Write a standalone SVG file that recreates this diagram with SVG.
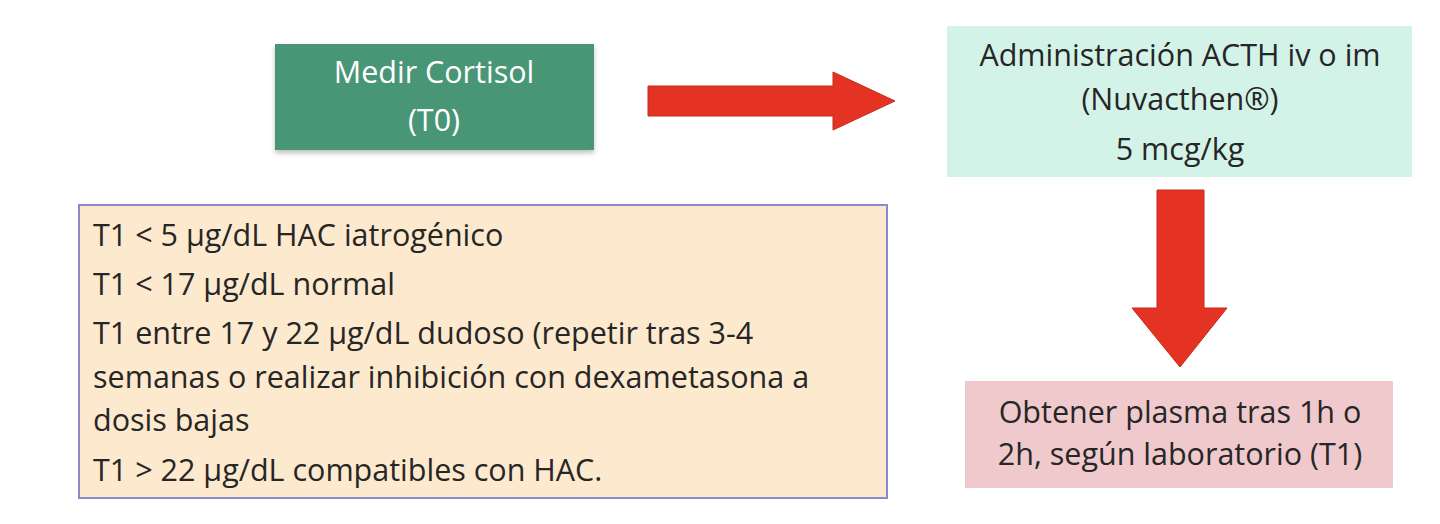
<svg xmlns="http://www.w3.org/2000/svg" width="1440" height="524" viewBox="0 0 1440 524">
<defs>
<style>
text{font-family:"Open Sans",Lato,"Liberation Sans",sans-serif;font-size:30.5px;fill:#262626}
.c{text-anchor:middle}
.w{fill:#ffffff}
.arrow{fill:#e53323;stroke:#c42a1c;stroke-width:1}
</style>
<filter id="sh" x="-5%" y="-10%" width="110%" height="130%">
<feDropShadow dx="0" dy="3" stdDeviation="2.5" flood-color="#000" flood-opacity="0.25"/>
</filter>
</defs>
<rect width="1440" height="524" fill="#ffffff"/>
<g id="connectors">
<polygon class="arrow" points="648,86 833,86 833,72 895,101 833,130 833,116 648,116"/>
<polygon class="arrow" points="1157,190 1204,190 1204,308 1227,308 1180,367 1132,308 1157,308"/>
</g>
<g id="medir">
<rect x="275" y="44" width="319" height="106" fill="#4a9677" filter="url(#sh)"/>
<text class="c w" x="434" y="83">Medir Cortisol</text>
<text class="c w" x="434" y="131">(T0)</text>
</g>
<g id="acth">
<rect x="947" y="26" width="465" height="151" fill="#d3f3e8"/>
<text class="c" x="1180" y="66">Administración ACTH iv o im</text>
<text class="c" x="1180" y="110">(Nuvacthen®)</text>
<text class="c" x="1180" y="160">5 mcg/kg</text>
</g>
<g id="plasma">
<rect x="965" y="381" width="428" height="107" fill="#f0c9cd"/>
<text class="c" x="1180" y="423">Obtener plasma tras 1h o</text>
<text class="c" x="1180" y="465">2h, según laboratorio (T1)</text>
</g>
<g id="interpretacion">
<rect x="79" y="205" width="808" height="293" fill="#fde9cd" stroke="#8c88c9" stroke-width="2"/>
<text x="93" y="246">T1 &lt; 5 μg/dL HAC iatrogénico</text>
<text x="93" y="295">T1 &lt; 17 μg/dL normal</text>
<text x="93" y="344">T1 entre 17 y 22 μg/dL dudoso (repetir tras 3-4</text>
<text x="93" y="388">semanas o realizar inhibición con dexametasona a</text>
<text x="93" y="431">dosis bajas</text>
<text x="93" y="481">T1 &gt; 22 μg/dL compatibles con HAC.</text>
</g>
</svg>
